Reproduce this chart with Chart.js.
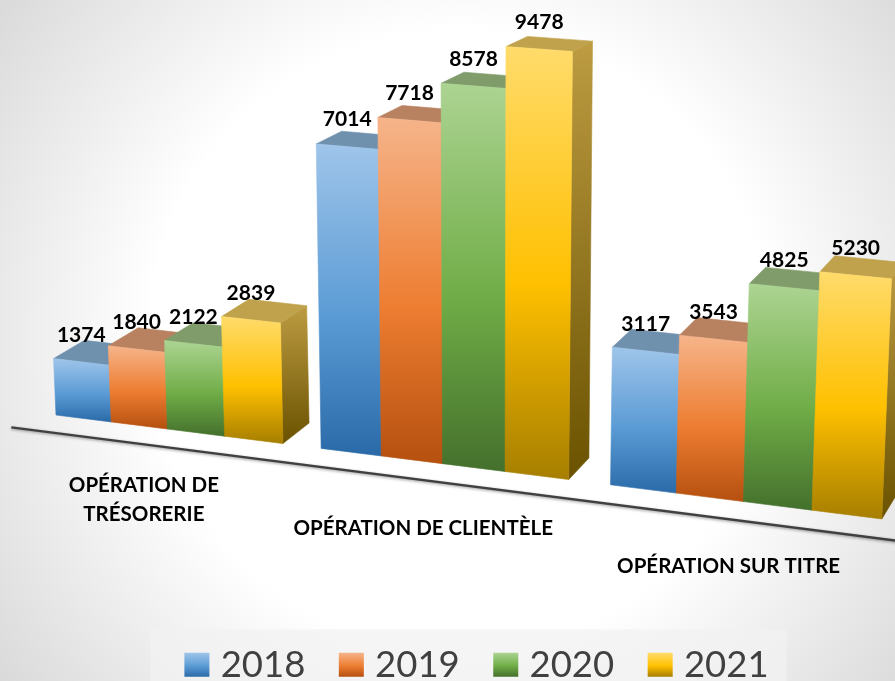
<!DOCTYPE html>
<html>
<head>
<meta charset="utf-8">
<title>Opérations</title>
<style>
    html, body { margin: 0; padding: 0; background: #fff; }
    canvas { display: block; }
</style>
<script src="https://cdn.jsdelivr.net/npm/chart.js@4/dist/chart.umd.min.js"></script>
</head>
<body>
<canvas id="myChart" width="895" height="681"></canvas>
<script>
const categories = [['OPÉRATION DE', 'TRÉSORERIE'], 'OPÉRATION DE CLIENTÈLE', 'OPÉRATION SUR TITRE'];
const years = ['2018', '2019', '2020', '2021'];
const values2018 = [1374, 7014, 3117];
const values2019 = [1840, 7718, 3543];
const values2020 = [2122, 8578, 4825];
const values2021 = [2839, 9478, 5230];
const seriesValues = [values2018, values2019, values2020, values2021];

// front gradient: light, base, dark
const frontColors = [
    ['#9fc5ea', '#5b9bd5', '#2a6aa8'],
    ['#f6b48a', '#ed7d31', '#b5500f'],
    ['#acd492', '#70ad47', '#44702c'],
    ['#ffdb6b', '#ffc000', '#a67e00']
];
const topColors = ['#6f91ae', '#b8815f', '#7f9c6a', '#c0a24c'];
const sideColors = [
    ['#6f91ae', '#1f4e79'],
    ['#b8815f', '#7f3f10'],
    ['#7f9c6a', '#375623'],
    ['#bd9c42', '#6a5200']
];

// the 3D view
const PERSP = 0.12;
const HEIGHT_PERSP = 0.09;
const ORIGIN_X = 56;
const SPAN_X = 720;
const BASE_Y = 415;
const BASE_SLOPE = 0.1259;
const FULL_HEIGHT = 408;
const VANISH_X = 482;
const LEAN = 1.03e-4;

function project(chart, barX, value) {
    const yScale = chart.scales.y;
    const bars = chart.getDatasetMeta(0).data;
    const lastBars = chart.getDatasetMeta(seriesValues.length - 1).data;
    const start = bars[0].x - bars[0].width / 2;
    const end = lastBars[lastBars.length - 1].x + lastBars[lastBars.length - 1].width / 2;
    const u = (barX - start) / (end - start);
    const x0 = (SPAN_X * u + ORIGIN_X) / (1 - PERSP * u);
    const y0 = BASE_Y + BASE_SLOPE * (x0 - ORIGIN_X);
    const h = (yScale.getPixelForValue(0) - yScale.getPixelForValue(value)) / yScale.height * FULL_HEIGHT / (1 - HEIGHT_PERSP * u);
    return {
        x: VANISH_X + (x0 - VANISH_X) * (1 + LEAN * h),
        y: y0 - h * (1 + LEAN * h)
    };
}

function back(p) {
    return {
        x: p.x + 31 - 0.021 * (p.x - 53),
        y: p.y - (10 + 0.026 * (p.y - 40))
    };
}

function fillPoly(ctx, points, fill) {
    ctx.beginPath();
    points.forEach((p, i) => {
        if (i === 0) ctx.moveTo(p.x, p.y);
        else ctx.lineTo(p.x, p.y);
    });
    ctx.closePath();
    ctx.fillStyle = fill;
    ctx.strokeStyle = fill;
    ctx.lineWidth = 0.6;
    ctx.fill();
    ctx.stroke();
}

const backgroundPlugin = {
    id: 'pageBackground',
    beforeDraw(chart) {
        const ctx = chart.ctx;
        const glow = ctx.createRadialGradient(460, 340, 0, 460, 340, 640);
        glow.addColorStop(0, '#ffffff');
        glow.addColorStop(0.484, '#ffffff');
        glow.addColorStop(1, '#d0d0d0');
        ctx.fillStyle = glow;
        ctx.fillRect(0, 0, chart.width, chart.height);

        // pale strip behind the legend
        const boxes = chart.legend.legendHitBoxes;
        const left = boxes[0].left - 34;
        const right = boxes[boxes.length - 1].left + boxes[boxes.length - 1].width + 18;
        ctx.fillStyle = 'rgba(242, 242, 242, 0.75)';
        ctx.fillRect(left, boxes[0].top - 17, right - left, chart.height);
    }
};

const bars3dPlugin = {
    id: 'bars3d',
    afterDatasetsDraw(chart) {
        const ctx = chart.ctx;
        const xScale = chart.scales.x;
        ctx.save();

        // axis line
        const axisA = project(chart, xScale.left - 30, 0);
        const axisB = project(chart, xScale.right + 24, 0);
        ctx.save();
        ctx.shadowColor = 'rgba(0, 0, 0, 0.4)';
        ctx.shadowBlur = 3;
        ctx.shadowOffsetY = 1;
        ctx.strokeStyle = '#404040';
        ctx.lineWidth = 2.5;
        ctx.beginPath();
        ctx.moveTo(axisA.x, axisA.y + 18);
        ctx.lineTo(axisB.x, axisB.y + 20);
        ctx.stroke();
        ctx.restore();

        // bars, left to right so the next one hides the previous side
        categories.forEach((cat, c) => {
            seriesValues.forEach((values, s) => {
                const bar = chart.getDatasetMeta(s).data[c];
                const xl = bar.x - bar.width / 2;
                const xr = bar.x + bar.width / 2;
                const bl = project(chart, xl, 0);
                const br = project(chart, xr, 0);
                const tl = project(chart, xl, values[c]);
                const tr = project(chart, xr, values[c]);

                const side = ctx.createLinearGradient(0, back(tr).y, 0, br.y);
                side.addColorStop(0, sideColors[s][0]);
                side.addColorStop(1, sideColors[s][1]);
                fillPoly(ctx, [tr, back(tr), back(br), br], side);
                fillPoly(ctx, [tl, back(tl), back(tr), tr], topColors[s]);

                const front = ctx.createLinearGradient(0, Math.min(tl.y, tr.y), 0, Math.max(bl.y, br.y));
                front.addColorStop(0, frontColors[s][0]);
                front.addColorStop(0.55, frontColors[s][1]);
                front.addColorStop(1, frontColors[s][2]);
                fillPoly(ctx, [tl, tr, br, bl], front);
            });
        });

        // value labels
        ctx.fillStyle = '#000';
        ctx.font = 'bold 21px Lato';
        ctx.textAlign = 'center';
        ctx.textBaseline = 'middle';
        categories.forEach((cat, c) => {
            seriesValues.forEach((values, s) => {
                const bar = chart.getDatasetMeta(s).data[c];
                const tl = project(chart, bar.x - bar.width / 2, values[c]);
                const tr = project(chart, bar.x + bar.width / 2, values[c]);
                ctx.fillText(String(values[c]), (tl.x + tr.x) / 2, (tl.y + tr.y) / 2 - 27);
            });
        });

        // category labels follow the floor
        ctx.font = 'bold 20.5px Lato';
        categories.forEach((cat, c) => {
            const p = project(chart, xScale.getPixelForTick(c), 0);
            const lines = Array.isArray(cat) ? cat : [cat];
            const cx = p.x - 26 + 0.015 * p.x;
            const cy = p.y + 71 - 6 * (c > 0 ? 1 : 0);
            lines.forEach((line, i) => {
                ctx.fillText(line, cx, cy + (i - (lines.length - 1) / 2) * 29);
            });
        });

        // legend swatches
        chart.legend.legendHitBoxes.forEach((box, s) => {
            const top = box.top + box.height / 2 - 12;
            const swatch = ctx.createLinearGradient(0, top, 0, top + 24);
            swatch.addColorStop(0, frontColors[s][0]);
            swatch.addColorStop(0.55, frontColors[s][1]);
            swatch.addColorStop(1, frontColors[s][2]);
            ctx.fillStyle = swatch;
            ctx.fillRect(box.left, top, 25, 24);
        });
        ctx.restore();
    }
};

const ctx = document.getElementById('myChart').getContext('2d');
const myChart = new Chart(ctx, {
    type: 'bar',
    data: {
        labels: categories,
        datasets: years.map((year, s) => ({
            label: year,
            data: seriesValues[s],
            backgroundColor: 'rgba(0, 0, 0, 0)',
            borderWidth: 0
        }))
    },
    options: {
        responsive: false,
        animation: false,
        events: [],
        categoryPercentage: 0.861,
        barPercentage: 1,
        layout: { padding: { left: 58, bottom: -12 } },
        scales: {
            x: { display: false },
            y: { display: false, min: 0, max: 10000 }
        },
        plugins: {
            tooltip: { enabled: false },
            legend: {
                position: 'bottom',
                labels: {
                    boxWidth: 18,
                    boxHeight: 24,
                    padding: 33.5,
                    color: '#404040',
                    font: { family: 'Lato', size: 36.5 }
                }
            }
        }
    },
    plugins: [backgroundPlugin, bars3dPlugin]
});
</script>
</body>
</html>
